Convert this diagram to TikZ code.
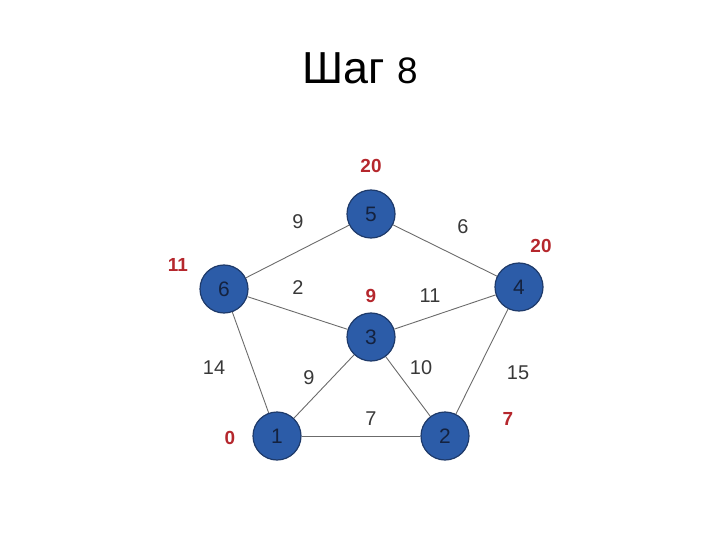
\documentclass[tikz,border=0pt]{standalone}
\usepackage{fontspec}
\setmainfont{Liberation Sans}
\usetikzlibrary{backgrounds}
\definecolor{vfill}{HTML}{2C5CA8}
\definecolor{vline}{HTML}{1E3A6A}
\definecolor{vtext}{HTML}{14223F}
\definecolor{dist}{HTML}{B5272D}
\definecolor{edge}{HTML}{6B6B6B}
\begin{document}
\begin{tikzpicture}[x=1bp,y=-1bp,
 vertex/.style={circle,draw=vline,fill=vfill,line width=1.2bp,minimum size=48bp,inner sep=0pt,text=vtext,font=\fontsize{21}{24}\selectfont},
 weight/.style={text=black!78,font=\fontsize{20}{22}\selectfont},
 dlabel/.style={text=dist,font=\fontsize{19}{21}\selectfont\bfseries}]
\useasboundingbox (0,0) rectangle (720,540);
\node (title) at (360,68) {\fontsize{45}{50}\selectfont Шаг {\fontsize{37}{40}\selectfont 8}};
% vertices
\node[vertex] (v5) at (371,214) {5};
\node[vertex] (v6) at (224,289) {6};
\node[vertex] (v4) at (519,287) {4};
\node[vertex] (v3) at (371,337) {3};
\node[vertex] (v1) at (277,436) {1};
\node[vertex] (v2) at (445,436) {2};
% edges
\begin{scope}[on background layer]
\foreach \a/\b in {v6/v5,v5/v4,v6/v3,v3/v4,v6/v1,v1/v3,v3/v2,v4/v2,v1/v2}{\draw[edge,line width=0.9bp] (\a)--(\b);}
\end{scope}
% weights
\node[weight] (w65) at (298,222) {9};
\node[weight] (w54) at (463,227) {6};
\node[weight] (w63) at (298,288) {2};
\node[weight] (w34) at (430,296) {11};
\node[weight] (w61) at (214,368) {14};
\node[weight] (w13) at (309,378) {9};
\node[weight] (w32) at (421,368) {10};
\node[weight] (w42) at (518,373) {15};
\node[weight] (w12) at (371,419) {7};
% distances
\node[dlabel] (d5) at (371,166) {20};
\node[dlabel] (d6) at (178,265) {11};
\node[dlabel] (d4) at (541,246) {20};
\node[dlabel] (d3) at (371,296) {9};
\node[dlabel] (d2) at (508,419) {7};
\node[dlabel] (d1) at (230,438) {0};
\end{tikzpicture}
\end{document}
